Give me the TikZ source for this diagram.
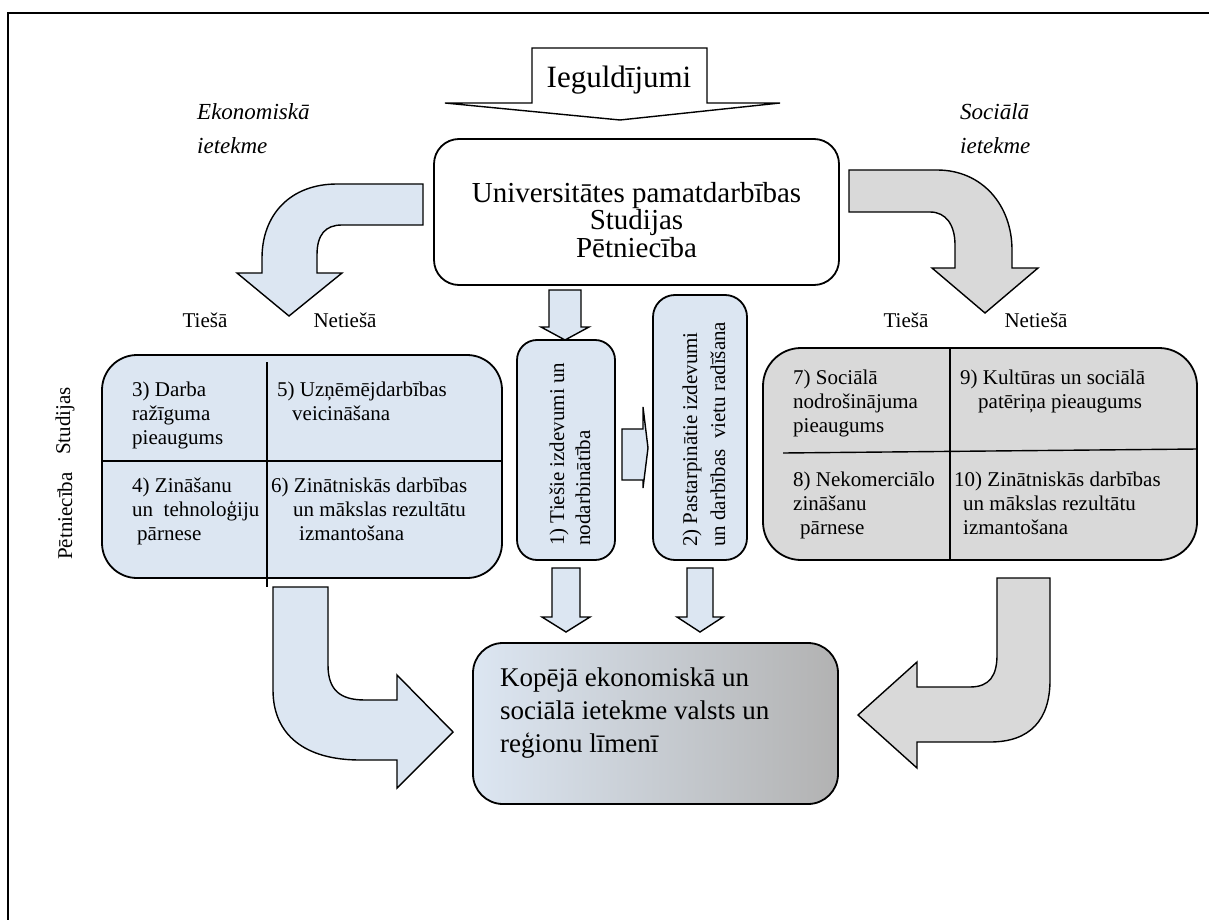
\documentclass[tikz,border=0pt]{standalone}
\usepackage{fontspec}
\setmainfont{Liberation Serif}
\usetikzlibrary{positioning}

\definecolor{paleblue}{RGB}{220,230,242}
\definecolor{palegray}{RGB}{217,217,217}
\definecolor{midgray}{RGB}{178,178,178}

\begin{document}
\begin{tikzpicture}[
    x=1pt, y=-1pt,
    panel/.style={
        % The shape:
        rectangle,
        rounded corners=#1,
        % The border
        draw=black,
        line width=1.8pt,
        inner sep=0pt
    },
    blockarrow/.style={
        draw=black,
        line width=1.4pt,
        line join=miter
    },
    cell/.style={
        font=\fontsize{21}{24}\selectfont,
        align=left,
        anchor=north west,
        inner sep=0pt
    },
    side/.style={
        font=\fontsize{21}{24}\selectfont,
        inner sep=0pt
    },
    impact/.style={
        font=\itshape\fontsize{23}{34}\selectfont,
        align=left,
        anchor=north west,
        inner sep=0pt
    }]

    \useasboundingbox (0,0) rectangle (1209,920);
    \draw[line width=2pt] (8,920) -- (8,13) -- (1209,13);

    % Investment arrow on top
    \draw[blockarrow, fill=white] (532,48) -- (707,48) -- (707,103) -- (780,103)
        -- (620,120) -- (445,103) -- (532,103) -- cycle;
    \node[anchor=base, inner sep=0pt, font=\fontsize{31}{36}\selectfont] (invest) at (619,88) {Ieguldījumi};

    % Main box
    \node[panel=25pt, fill=white, minimum width=405pt, minimum height=146pt] (univ) at (636.5,212) {};
    \node[align=center, inner sep=0pt, font=\fontsize{29}{25}\selectfont] (univtxt) at (636.5,220)
        {Universitātes pamatdarbības\\Studijas\\Pētniecība};

    \node[impact] (econlbl) at (197,103) {Ekonomiskā\\ietekme};
    \node[impact] (soclbl) at (960,103) {Sociālā\\ietekme};

    % Bent arrows from the main box
    \draw[blockarrow, fill=paleblue] (423,184) -- (337,184) .. controls (290,184) and (262,215) .. (262,258)
        -- (262,273) -- (237,273) -- (289,316) -- (342,273) -- (317,273) -- (317,255)
        .. controls (317,235) and (325,225) .. (342,225) -- (423,225) -- cycle;
    \draw[blockarrow, fill=palegray] (849,170) -- (937,170) .. controls (982,170) and (1012,205) .. (1012,250)
        -- (1012,268) -- (1038,268) -- (985,313) -- (932,268) -- (955,268) -- (955,245)
        .. controls (955,225) and (946,212) .. (930,212) -- (849,212) -- cycle;

    \foreach \lx/\lname/\ltext in {205/ltd/Tiešā, 345/lind/Netiešā, 906/rtd/Tiešā, 1036/rind/Netiešā}
        \node[side, anchor=base] (\lname) at (\lx,327) {\ltext};

    \node[side, rotate=90] (stud) at (65,421) {Studijas};
    \node[side, rotate=90] (petn) at (65,516) {Pētniecība};

    % Economic impact grid
    \node[panel=35pt, fill=paleblue, minimum width=400pt, minimum height=223pt] (econ) at (302,466.5) {};
    \draw[line width=1.4pt] (267,362) -- (267,587);
    \draw[line width=1.4pt] (econ.west |- 0,461) -- (econ.east |- 0,461);
    \node[cell] (c3) at (132,382) {3) Darba\\ražīguma\\pieaugums};
    \node[cell] (c5) at (277,382) {5) Uzņēmējdarbības\\\hspace*{15pt}veicināšana};
    \node[cell] (c4) at (132,478) {4) Zināšanu\\un\ \ tehnoloģiju\\\hspace*{5pt}pārnese};
    \node[cell] (c6) at (271,478) {6) Zinātniskās darbības\\\hspace*{22pt}un mākslas rezultātu\\\hspace*{28pt}izmantošana};

    % Social impact grid
    \node[panel=38pt, fill=palegray, minimum width=434pt, minimum height=212pt] (social) at (980,454) {};
    \draw[line width=1.4pt] (social.north -| 950,0) -- (social.south -| 950,0);
    \draw[line width=1.4pt] (783,453) -- (social.east |- 0,449);
    \node[cell] (c7) at (793,370) {7) Sociālā\\nodrošinājuma\\pieaugums};
    \node[cell] (c9) at (960,370) {9) Kultūras un sociālā\\\hspace*{18pt}patēriņa pieaugums};
    \node[cell] (c8) at (793,472) {8) Nekomerciālo\\zināšanu\\\hspace*{7pt}pārnese};
    \node[cell] (c10) at (954,472) {10) Zinātniskās darbības\\\hspace*{9pt}un mākslas rezultātu\\\hspace*{9pt}izmantošana};

    % Middle column
    \node[panel=20pt, fill=paleblue, minimum width=98pt, minimum height=220pt] (direct) at (566,450) {};
    \node[side, rotate=90, anchor=west, align=left, font=\fontsize{21}{26}\selectfont] (directtxt) at (570,546)
        {1) Tiešie izdevumi un\\nodarbinātība};
    \node[panel=22pt, fill=paleblue, minimum width=94pt, minimum height=265pt] (indirect) at (700,427.5) {};
    \node[side, rotate=90, anchor=west, align=left, font=\fontsize{21}{28}\selectfont] (indirecttxt) at (704,547)
        {2) Pastarpinātie izdevumi\\un darbības\ \ vietu radīšana};

    \foreach \cx/\ytop/\yhead/\ytip/\hw/\hh in {565/290/327/340/16/24, 566/568/617/632/14/24, 700/568/617/632/13/23}
        \draw[blockarrow, fill=paleblue] (\cx-\hw,\ytop) -- (\cx+\hw,\ytop) -- (\cx+\hw,\yhead) -- (\cx+\hh,\yhead)
            -- (\cx,\ytip) -- (\cx-\hh,\yhead) -- (\cx-\hw,\yhead) -- cycle;
    \draw[blockarrow, fill=paleblue] (622,429) -- (643,429) -- (643,407) -- (648,448) -- (643,488)
        -- (643,480) -- (622,480) -- cycle;

    % Total impact box
    \node[panel=30pt, left color=paleblue, right color=midgray, minimum width=365pt, minimum height=161pt] (total) at (655.5,723.5) {};
    \node[anchor=north west, align=left, inner sep=0pt, font=\fontsize{27}{33}\selectfont] (totaltxt) at (500,668)
        {Kopējā ekonomiskā un\\sociālā ietekme valsts un\\reģionu līmenī};

    % Bent arrows into the total box
    \draw[blockarrow, fill=paleblue] (273,587) -- (328,587) -- (328,665) .. controls (328,690) and (340,700) .. (365,700)
        -- (397,700) -- (397,675) -- (453,732) -- (397,788) -- (397,760) -- (360,760)
        .. controls (305,760) and (273,735) .. (273,690) -- cycle;
    \draw[blockarrow, fill=palegray] (997,578) -- (1050,578) -- (1050,680) .. controls (1050,720) and (1030,742) .. (990,742)
        -- (917,742) -- (917,768) -- (858,715) -- (917,662) -- (917,687) -- (970,687)
        .. controls (990,687) and (997,675) .. (997,655) -- cycle;
\end{tikzpicture}
\end{document}
